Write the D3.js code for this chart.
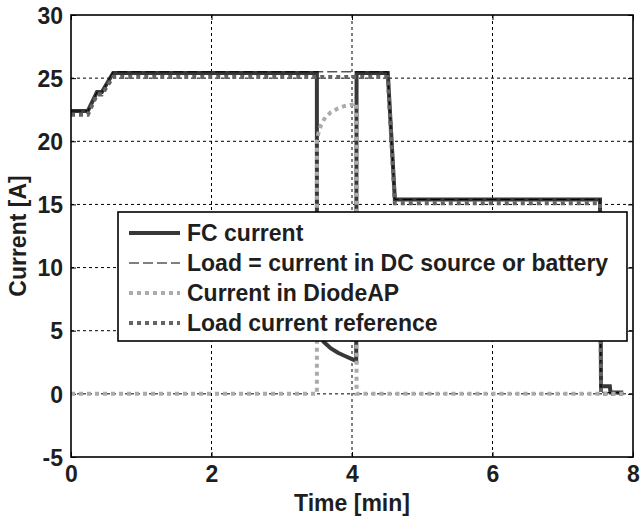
<!DOCTYPE html>
<html><head><meta charset="utf-8">
<script src="https://cdn.jsdelivr.net/npm/d3@7"></script>
<style>body{margin:0;background:#fff}svg{display:block}text{font-family:"Liberation Sans",Arial,sans-serif;font-weight:bold;fill:#1e1e1e}</style>
</head><body><svg id="c" width="641" height="517"></svg>
<script>
// Data (time in minutes, current in A)
const xTicks = [0, 2, 4, 6, 8];
const yTicks = [-5, 0, 5, 10, 15, 20, 25, 30];
const fcTime = [0, 0.24, 0.37, 0.44, 0.6, 3.5, 3.501, 3.55, 3.6, 3.7, 3.8, 3.9, 4.0, 4.06, 4.065, 4.51, 4.61, 7.53, 7.545, 7.67, 7.68, 7.86];
const fcValue = [22.4, 22.4, 23.9, 23.9, 25.4, 25.4, 5.0, 4.5, 4.1, 3.6, 3.25, 3.0, 2.75, 2.6, 25.4, 25.4, 15.4, 15.4, 0.6, 0.6, 0.1, 0.1];
const loadTime = [0, 0.24, 0.37, 0.44, 0.6, 4.51, 4.61, 7.53, 7.545, 7.86];
const loadValue = [22.4, 22.4, 23.9, 23.9, 25.5, 25.5, 15.4, 15.4, 0.1, 0.1];
const diodeTime = [0, 3.5, 3.501, 3.52, 3.56, 3.62, 3.7, 3.8, 3.9, 4.0, 4.06, 4.065, 7.86];
const diodeValue = [0, 0, 20.0, 20.6, 21.3, 21.9, 22.3, 22.6, 22.8, 22.9, 23.0, 0, 0];
const refTime = [0, 0.24, 0.37, 0.44, 0.6, 4.51, 4.61, 7.53, 7.545, 7.86];
const refValue = [22.1, 22.1, 23.7, 23.7, 25.1, 25.1, 15.1, 15.1, 0.0, 0.0];
const seriesNames = ["FC current", "Load = current in DC source or battery", "Current in DiodeAP", "Load current reference"];

const svg = d3.select("#c");
const L = 71, R = 633, T = 15, B = 457;
const FS = 23;
const x = d3.scaleLinear().domain([0, 8]).range([L, R]);
const y = d3.scaleLinear().domain([-5, 30]).range([B, T]);

// grid
const g = svg.append("g");
g.selectAll(".gx").data(xTicks.filter(d => d > 0 && d < 8)).enter().append("line")
  .attr("x1", d => x(d)).attr("x2", d => x(d)).attr("y1", T).attr("y2", B)
  .attr("stroke", "#000").attr("stroke-width", 1).attr("stroke-dasharray", "3,3");
g.selectAll(".gy").data(yTicks.filter(d => d > -5 && d < 30)).enter().append("line")
  .attr("y1", d => y(d)).attr("y2", d => y(d)).attr("x1", L).attr("x2", R)
  .attr("stroke", "#000").attr("stroke-width", 1).attr("stroke-dasharray", "3,3");

// axes
const fmt = d => String(d);
const axB = svg.append("g").attr("transform", `translate(0,${B})`).call(d3.axisBottom(x).tickValues(xTicks).tickSizeInner(-5).tickSizeOuter(0).tickPadding(8).tickFormat(fmt));
const axT = svg.append("g").attr("transform", `translate(0,${T})`).call(d3.axisTop(x).tickValues(xTicks).tickSizeInner(-5).tickSizeOuter(0).tickFormat(""));
const axL = svg.append("g").attr("transform", `translate(${L},0)`).call(d3.axisLeft(y).tickValues(yTicks).tickSizeInner(-5).tickSizeOuter(0).tickPadding(8).tickFormat(fmt));
const axR = svg.append("g").attr("transform", `translate(${R},0)`).call(d3.axisRight(y).tickValues(yTicks).tickSizeInner(-5).tickSizeOuter(0).tickFormat(""));
[axB, axT, axL, axR].forEach(a => {
  a.select(".domain").remove();
  a.selectAll("line").attr("stroke", "#000").attr("stroke-width", 1);
  a.selectAll("text").attr("font-size", FS).attr("font-family", '"Liberation Sans",Arial,sans-serif').attr("font-weight", "bold").attr("fill", "#1e1e1e");
});
axL.selectAll("text").attr("dy", "0.36em");
axB.selectAll("text").attr("dy", "0.72em");

// series
const line = d3.line().x(d => x(d[0])).y(d => y(d[1]));
const zip = (a, b) => a.map((t, i) => [t, b[i]]);
const styles = [
  {stroke: "#383838", w: 4, dash: null},
  {stroke: "#000", w: 1, dash: "10,4"},
  {stroke: "#ababab", w: 4, dash: "4,4"},
  {stroke: "#646464", w: 4, dash: "4,4"}
];
const data = [zip(fcTime, fcValue), zip(loadTime, loadValue), zip(diodeTime, diodeValue), zip(refTime, refValue)];
const order = [0, 1, 3, 2];
order.forEach(i => {
  const p = svg.append("path").datum(data[i]).attr("d", line).attr("fill", "none")
    .attr("stroke", styles[i].stroke).attr("stroke-width", styles[i].w).attr("stroke-linejoin", "miter");
  if (styles[i].dash) p.attr("stroke-dasharray", styles[i].dash);
});

// frame
svg.append("rect").attr("x", L).attr("y", T).attr("width", R - L).attr("height", B - T)
  .attr("fill", "none").attr("stroke", "#000").attr("stroke-width", 1.6);

// legend
const lg = svg.append("g");
lg.append("rect").attr("x", 118).attr("y", 212).attr("width", 509).attr("height", 129)
  .attr("fill", "#fff").attr("stroke", "#000").attr("stroke-width", 1.6);
seriesNames.forEach((n, i) => {
  const yy = 233 + i * 30;
  const l = lg.append("line").attr("x1", 129).attr("x2", 180).attr("y1", yy).attr("y2", yy)
    .attr("stroke", styles[i].stroke).attr("stroke-width", styles[i].w);
  if (styles[i].dash) l.attr("stroke-dasharray", styles[i].dash);
  lg.append("text").attr("x", 187).attr("y", yy).attr("dy", "0.36em").attr("font-size", FS).text(n);
});

// axis titles
svg.append("text").attr("x", (L + R) / 2).attr("y", 511).attr("text-anchor", "middle").attr("font-size", FS).text("Time [min]");
svg.append("text").attr("transform", `translate(26,${(T + B) / 2}) rotate(-90)`).attr("text-anchor", "middle").attr("font-size", FS).text("Current [A]");
</script></body></html>
